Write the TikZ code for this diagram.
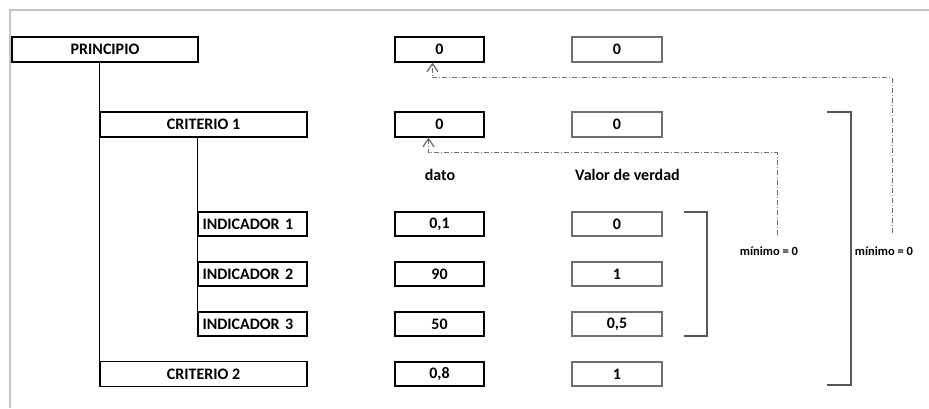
\documentclass[tikz,border=0pt]{standalone}
\usepackage{fontspec}
\setmainfont{Carlito}
\usetikzlibrary{arrows.meta}
\definecolor{marco}{HTML}{C4C4C4}
\definecolor{gris}{HTML}{6F6F6F}
\definecolor{llave}{HTML}{555555}
\begin{document}
\begin{tikzpicture}[x=1pt,y=-1pt,
 caja/.style={draw, rectangle, line width=1.1pt, minimum height=25pt, inner sep=0pt, font=\fontsize{16}{18}\selectfont\bfseries},
 indic/.style={caja, minimum height=24pt, text width=100pt, inner xsep=4.5pt, align=left},
 valor/.style={caja, draw=gris, minimum width=90pt},
 dato/.style={caja, minimum width=89pt},
 rama/.style={line width=0.9pt},
 cierre/.style={draw=llave, line width=1.4pt},
 flecha/.style={draw=gris, line width=1pt, dash pattern=on 5pt off 2pt on 1pt off 2pt, -{Straight Barb[length=8pt,width=11pt,line width=1.3pt]}},
 etiq/.style={font=\fontsize{16}{18}\selectfont\bfseries, inner sep=0pt},
 minimo/.style={font=\fontsize{12.5}{14}\selectfont\bfseries, inner sep=0pt}]
 \useasboundingbox (0,0) rectangle (929,408);
 \draw[marco, line width=2pt] (10,408) -- (10,10) -- (929,10);

 % arbol de la izquierda
 \node[caja, minimum width=186pt] (prin) at (105,49.5) {PRINCIPIO};
 \node[caja, minimum width=207pt] (crit1) at (203.5,124.5) {CRITERIO 1};
 \node[indic] (ind1) at (252.5,224) {INDICADOR 1};
 \node[indic] (ind2) at (252.5,274) {INDICADOR 2};
 \node[indic] (ind3) at (252.5,324) {INDICADOR 3};
 \node[caja, minimum width=207pt] (crit2) at (203.5,374) {CRITERIO 2};
 \draw[rama] (prin.south -| crit1.west) -- (crit2.north west);
 \draw[rama] (crit1.south -| ind1.west) -- (ind3.north west);

 % columna dato
 \node[dato] (dprin) at (439.5,49.5) {0};
 \node[dato] (dcrit1) at (439.5,124.5) {0};
 \node[etiq] (tdato) at (440,175) {dato};
 \node[dato, minimum height=24pt] (dind1) at (439.5,224) {0,1};
 \node[dato, minimum height=24pt] (dind2) at (439.5,274) {90};
 \node[dato, minimum height=24pt] (dind3) at (439.5,324) {50};
 \node[dato, minimum height=24pt] (dcrit2) at (439.5,374) {0,8};

 % columna valor de verdad
 \node[valor] (vprin) at (617,49.5) {0};
 \node[valor] (vcrit1) at (617,124.5) {0};
 \node[etiq, anchor=west] (tvalor) at (575,175) {Valor de verdad};
 \node[valor, minimum height=24pt] (vind1) at (617,224) {0};
 \node[valor, minimum height=24pt] (vind2) at (617,274) {1};
 \node[valor, minimum height=24pt] (vind3) at (617,324) {0,5};
 \node[valor, minimum height=24pt] (vcrit2) at (617,374) {1};

 % llaves y minimos
 \draw[cierre] (684,212) -- (707,212) -- (707,336) -- (684,336);
 \draw[cierre] (827,112) -- (851,112) -- (851,385) -- (827,385);
 \node[minimo] (min1) at (769,251) {mínimo = 0};
 \node[minimo] (min2) at (884,251) {mínimo = 0};
 \coordinate (a1) at (777,235);
 \coordinate (a2) at (892,233);
 \draw[flecha] (a1) |- ([xshift=-11pt,yshift=-15pt]dcrit1.south) -- ([xshift=-11pt]dcrit1.south);
 \draw[flecha] (a2) |- ([xshift=-7pt,yshift=-15pt]dprin.south) -- ([xshift=-7pt]dprin.south);
\end{tikzpicture}
\end{document}
